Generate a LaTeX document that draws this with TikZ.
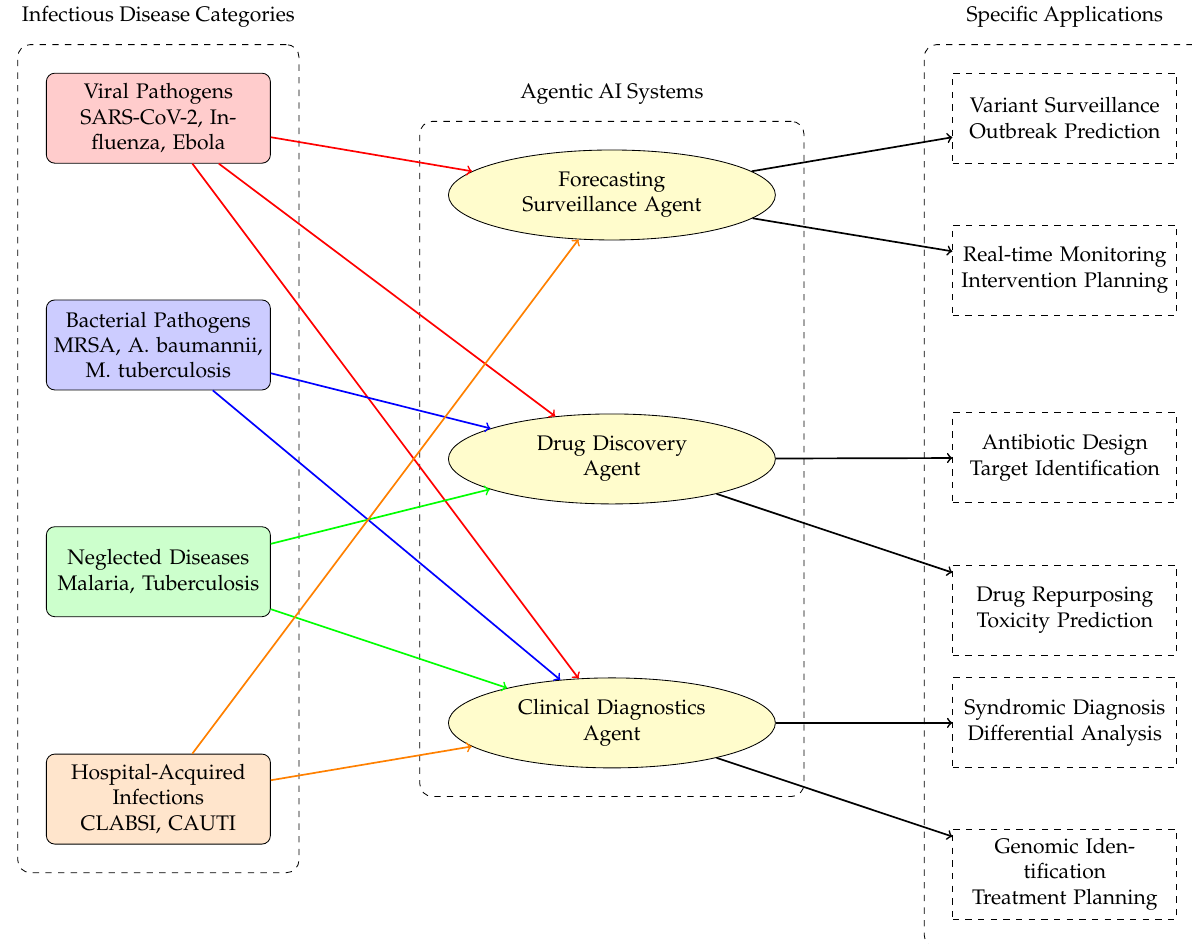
\documentclass[tikz,border=0pt]{standalone}
\usepackage[T1]{fontenc}
\usepackage{mathpazo}
\usepackage{tikz}
\usetikzlibrary{shapes.geometric, fit, positioning}

\begin{document}
\begin{tikzpicture}[>=to,
  catbox/.style={draw, rounded corners, text width=3.5cm, align=center, minimum height=1.5cm},
  agentbox/.style={draw, ellipse, fill=yellow!20, text width=3.5cm, align=center, minimum width=5.45cm, minimum height=1.5cm},
  appbox/.style={draw, dashed, text width=3.5cm, align=center, minimum height=1.5cm},
  groupbox/.style={draw, dashed, rounded corners=6pt, inner sep=0.47cm},
  link/.style={->, thick}]

\useasboundingbox (0,0) rectangle (19.87,-15.72);

\node[catbox, fill=red!20]    (viral)     at (2.64,-1.97)  {Viral Pathogens\\SARS-CoV-2, Influenza, Ebola};
\node[catbox, fill=blue!20]   (bacterial) at (2.64,-5.75)  {Bacterial Pathogens\\MRSA, A. baumannii, M. tuberculosis};
\node[catbox, fill=green!20]  (neglected) at (2.64,-9.53)  {Neglected Diseases\\Malaria, Tuberculosis};
\node[catbox, fill=orange!20] (hospital)  at (2.64,-13.32) {Hospital-Acquired Infections\\CLABSI, CAUTI};

\node[agentbox] (forecast)  at (10.2,-3.25)  {Forecasting\\Surveillance Agent};
\node[agentbox] (drugdisc)  at (10.2,-7.65)  {Drug Discovery\\Agent};
\node[agentbox] (clinical)  at (10.2,-12.05) {Clinical Diagnostics\\Agent};

\node[appbox] (variant)    at (17.75,-1.97)  {Variant Surveillance\\Outbreak Prediction};
\node[appbox] (realtime)   at (17.75,-4.5)   {Real-time Monitoring\\Intervention Planning};
\node[appbox] (antibiotic) at (17.75,-7.63)  {Antibiotic Design\\Target Identification};
\node[appbox] (repurpose)  at (17.75,-10.17) {Drug Repurposing\\Toxicity Prediction};
\node[appbox] (syndromic)  at (17.75,-12.05) {Syndromic Diagnosis\\Differential Analysis};
\node[appbox] (genomic)    at (17.75,-14.57) {Genomic Identification\\Treatment Planning};

\node[groupbox, fit=(viral)(hospital)]      (catgroup)   {};
\node[groupbox, fit=(forecast)(clinical)]   (agentgroup) {};
\node[groupbox, fit=(variant)(genomic)]     (appgroup)   {};

\node[above=0.15cm of catgroup]   (cattitle)   {Infectious Disease Categories};
\node[above=0.15cm of agentgroup] (agenttitle) {Agentic AI Systems};
\node[above=0.15cm of appgroup]   (apptitle)   {Specific Applications};

\draw[link, red] (viral) -- (forecast);
\draw[link, red] (viral) -- (drugdisc);
\draw[link, red] (viral) -- (clinical);
\draw[link, blue] (bacterial) -- (drugdisc);
\draw[link, blue] (bacterial) -- (clinical);
\draw[link, green] (neglected) -- (drugdisc);
\draw[link, green] (neglected) -- (clinical);
\draw[link, orange] (hospital) -- (forecast);
\draw[link, orange] (hospital) -- (clinical);

\draw[link] (forecast) -- (variant);
\draw[link] (forecast) -- (realtime);
\draw[link] (drugdisc) -- (antibiotic);
\draw[link] (drugdisc) -- (repurpose);
\draw[link] (clinical) -- (syndromic);
\draw[link] (clinical) -- (genomic);

\end{tikzpicture}
\end{document}
